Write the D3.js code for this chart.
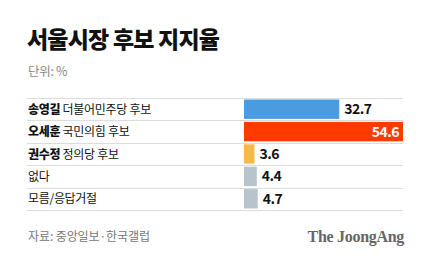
<!DOCTYPE html>
<html>
<head>
<meta charset="utf-8">
<script src="https://cdn.jsdelivr.net/npm/d3@7"></script>
<style>
  body { margin: 0; background: #fff; }
  text { font-family: "Noto Sans CJK KR", "Noto Sans", sans-serif; }
</style>
</head>
<body>
<svg id="chart" width="430" height="262"></svg>
<script>
// 데이터
const names = ["송영길", "오세훈", "권수정", "없다", "모름/응답거절"];
const parties = ["더불어민주당 후보", "국민의힘 후보", "정의당 후보", "", ""];
const values = [32.7, 54.6, 3.6, 4.4, 4.7];
const barColors = ["#4a9be0", "#ff3a00", "#f5b94a", "#b8c4cc", "#b8c4cc"];

const rows = names.map((n, i) => ({ name: n, party: parties[i], value: values[i], bold: parties[i] !== "" }));

const svg = d3.select("#chart");

const x = d3.scaleLinear().domain([0, d3.max(values)]).range([244, 403]);
const y = d3.scaleBand().domain(names).range([98, 210]);
const color = d3.scaleOrdinal().domain(names).range(barColors);

// 제목
svg.append("text")
    .attr("x", 27).attr("y", 48)
    .attr("font-size", 23).attr("font-weight", 900)
    .attr("letter-spacing", -0.8)
    .attr("fill", "#111")
    .text("서울시장 후보 지지율");

svg.append("text")
    .attr("x", 28).attr("y", 76)
    .attr("font-size", 12.5)
    .attr("letter-spacing", -0.3)
    .attr("fill", "#888")
    .text("단위: %");

// 구분선
const lines = names.map(n => y(n)).concat([y.range()[1]]);
svg.append("g")
    .attr("stroke", "#dcdcdc")
    .attr("stroke-width", 1)
    .selectAll("line")
    .data(lines)
    .join("line")
    .attr("x1", 27).attr("x2", 403)
    .attr("y1", d => Math.round(d) + 0.5)
    .attr("y2", d => Math.round(d) + 0.5);

// 막대
svg.append("g")
    .selectAll("rect")
    .data(rows)
    .join("rect")
    .attr("x", x(0))
    .attr("y", d => y(d.name) + 1.5)
    .attr("width", d => x(d.value) - x(0))
    .attr("height", y.bandwidth() - 3)
    .attr("fill", d => color(d.name));

// 항목 이름
const label = svg.append("g")
    .selectAll("text")
    .data(rows)
    .join("text")
    .attr("x", 28)
    .attr("y", d => y(d.name) + y.bandwidth() / 2 + 4.5)
    .attr("font-size", 12)
    .attr("letter-spacing", -0.3)
    .attr("fill", "#111");

label.append("tspan")
    .attr("font-weight", d => d.bold ? 900 : 400)
    .text(d => d.name);

label.append("tspan")
    .text(d => d.party ? " " + d.party : "");

// 값
const maxV = d3.max(values);
svg.append("g")
    .selectAll("text")
    .data(rows)
    .join("text")
    .attr("x", d => d.value === maxV ? x(d.value) - 4 : x(d.value) + 5)
    .attr("y", d => y(d.name) + y.bandwidth() / 2 + 5)
    .attr("text-anchor", d => d.value === maxV ? "end" : "start")
    .attr("font-size", 14)
    .attr("font-weight", 700)
    .attr("letter-spacing", -0.5)
    .attr("fill", d => d.value === maxV ? "#fff" : "#111")
    .text(d => d3.format(".1f")(d.value));

// 출처
svg.append("text")
    .attr("x", 28).attr("y", 241)
    .attr("font-size", 12)
    .attr("letter-spacing", -0.1)
    .attr("fill", "#777")
    .text("자료: 중앙일보·한국갤럽");

svg.append("text")
    .attr("x", 404).attr("y", 242)
    .attr("text-anchor", "end")
    .style("font-family", "'Liberation Serif', 'DejaVu Serif', serif")
    .attr("font-size", 16)
    .attr("font-weight", 700)
    .attr("letter-spacing", -0.3)
    .attr("fill", "#666")
    .text("The JoongAng");
</script>
</body>
</html>
